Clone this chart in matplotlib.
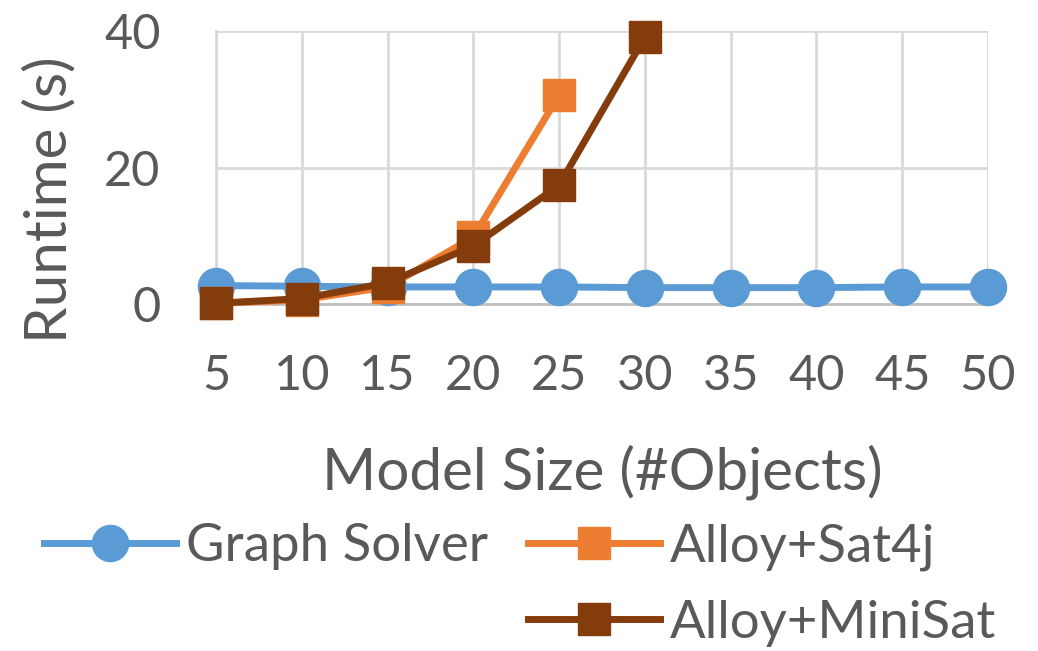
import matplotlib
matplotlib.use("Agg")
import matplotlib.pyplot as plt
from matplotlib.lines import Line2D

# data
sizes = [5, 10, 15, 20, 25, 30, 35, 40, 45, 50]
graph_solver = [2.7, 2.6, 2.5, 2.5, 2.5, 2.4, 2.4, 2.4, 2.5, 2.5]
sat4j_sizes = [5, 10, 15, 20, 25]
alloy_sat4j = [0.1, 0.6, 2.5, 9.8, 30.6]
minisat_sizes = [5, 10, 15, 20, 25, 30]
alloy_minisat = [0.1, 0.8, 3.1, 8.5, 17.4, 39.1]
yticks = [0, 20, 40]

blue = "#5B9BD5"
orange = "#ED7D31"
brown = "#843C0C"
txt = "#595959"
grid = "#D9D9D9"

plt.rcParams['font.family'] = ['Lato', 'DejaVu Sans']

W, H = 1038, 651
fig = plt.figure(figsize=(W / 100, H / 100), dpi=100)
ax = fig.add_axes([216 / W, 1 - 304 / H, (988 - 216) / W, (304 - 31) / H])

ax.plot(sizes, graph_solver, color=blue, lw=5, marker='o', ms=26,
        clip_on=False, zorder=3, label='Graph Solver')
ax.plot(sat4j_sizes, alloy_sat4j, color=orange, lw=5, marker='s', ms=23,
        clip_on=False, zorder=4, label='Alloy+Sat4j')
ax.plot(minisat_sizes, alloy_minisat, color=brown, lw=5, marker='s', ms=23,
        clip_on=False, zorder=5, label='Alloy+MiniSat')

ax.set_xlim(5, 50)
ax.set_ylim(0, 40)
ax.set_xticks(sizes)
ax.set_yticks(yticks)
ax.grid(True, color=grid, lw=2)
ax.set_axisbelow(True)
for s in ['top', 'right']:
    ax.spines[s].set_visible(False)
ax.spines['left'].set_color(grid)
ax.spines['left'].set_linewidth(2)
ax.spines['bottom'].set_color('#BFBFBF')
ax.spines['bottom'].set_linewidth(2)
ax.tick_params(axis='both', length=0, labelsize=35, colors=txt)
ax.tick_params(axis='x', pad=36)
ax.tick_params(axis='y', pad=40)

fig.text(50 / W, 1 - 200 / H, 'Runtime (s)', rotation=90, fontsize=42,
         color=txt, ha='center', va='center')
fig.text(602 / W, 1 - 472 / H, 'Model Size (#Objects)', fontsize=42,
         color=txt, ha='center', va='center')

h, l = ax.get_legend_handles_labels()
blank = Line2D([], [], linestyle='none')
leg = fig.legend([h[0], blank, h[1], h[2]],
                 ['Graph Solver', '', 'Alloy+Sat4j', 'Alloy+MiniSat'],
                 ncol=2, loc='center', bbox_to_anchor=(520 / W, 1 - 585 / H),
                 frameon=False, fontsize=38, handlelength=2.5,
                 handletextpad=0.2, columnspacing=0.75, labelspacing=0.55,
                 borderpad=0, markerscale=1)
for t in leg.get_texts():
    t.set_color(txt)

fig.savefig('out.png', dpi=100)
